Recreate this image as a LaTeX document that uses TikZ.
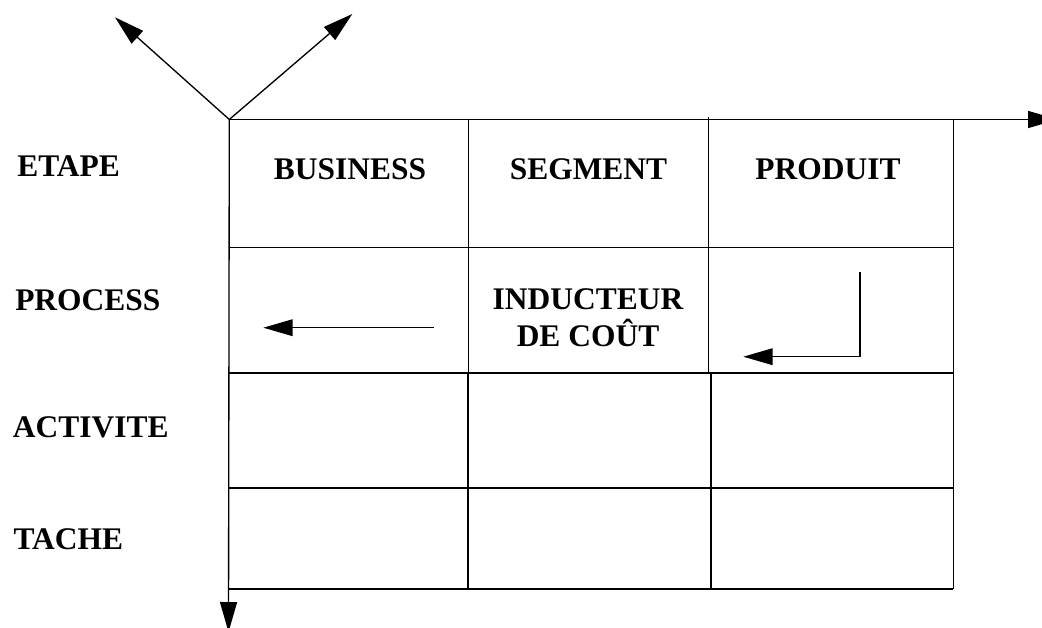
\documentclass[tikz,border=0pt]{standalone}
\usepackage{fontspec}
\setmainfont{Liberation Serif}
\usetikzlibrary{arrows.meta}
\begin{document}
\begin{tikzpicture}[x=0.75pt,y=-0.75pt,
  lbl/.style={font=\fontsize{23.6pt}{28pt}\selectfont\bfseries, inner sep=0pt},
  thin grid/.style={line width=1pt},
  thick grid/.style={line width=1.5pt},
  bigarrow/.style={line width=1pt,-{Triangle[length=22.5pt,width=12.75pt]}},
  smallarrow/.style={line width=1pt,-{Triangle[length=22pt,width=12.5pt]}}]
\useasboundingbox (0,0) rectangle (1042,628);
% axes
\coordinate (O) at (229.3,119.5);
\coordinate (Xend) at (1058,119.5);
\coordinate (Yend) at (228.5,632);
\coordinate (D1) at (115,17.3);
\coordinate (D2) at (352.3,14);
\draw[bigarrow] (O) -- (Xend);
\draw[bigarrow] (O) -- (Yend);
\draw[bigarrow] (O) -- (D1);
\draw[bigarrow] (O) -- (D2);
% upper grid
\draw[thin grid] (229,247.5) -- (953.3,247.5);
\draw[thin grid] (468.3,119.5) -- (468.3,372.7);
\draw[thin grid] (708.3,116.7) -- (708.3,372.7);
\draw[thin grid] (953.3,119.5) -- (953.3,372.7);
% lower grid
\draw[thick grid] (229,372.7) -- (953.3,372.7);
\draw[thick grid] (229,487.7) -- (953.3,487.7);
\draw[thick grid] (229,589) -- (953.3,589);
\draw[thick grid] (468.3,372.7) -- (468.3,589);
\draw[thick grid] (710.7,372.7) -- (710.7,589);
\draw[thin grid] (953.3,372.7) -- (953.3,589);
% row labels
\node[lbl,anchor=base west] (etape) at (17,176.5) {ETAPE};
\node[lbl,anchor=base west] (process) at (15,310) {PROCESS};
\node[lbl,anchor=base west] (activite) at (12.7,437.3) {ACTIVITE};
\node[lbl,anchor=base west] (tache) at (13.3,549.3) {TACHE};
% column headers
\node[lbl,anchor=base] (business) at (350,179) {BUSINESS};
\node[lbl,anchor=base] (segment) at (588.5,179) {SEGMENT};
\node[lbl,anchor=base] (produit) at (828,179) {PRODUIT};
\node[lbl,anchor=base,align=center] (inducteur) at (588,346.7) {INDUCTEUR\\DE COÛT};
% arrows in process row
\coordinate (a1s) at (434,327.7);
\coordinate (a1e) at (263.3,327.7);
\draw[smallarrow] (a1s) -- (a1e);
\coordinate (a2s) at (860,271.7);
\coordinate (a2e) at (743.3,356.7);
\draw[smallarrow] (a2s) |- (a2e);
\end{tikzpicture}
\end{document}
